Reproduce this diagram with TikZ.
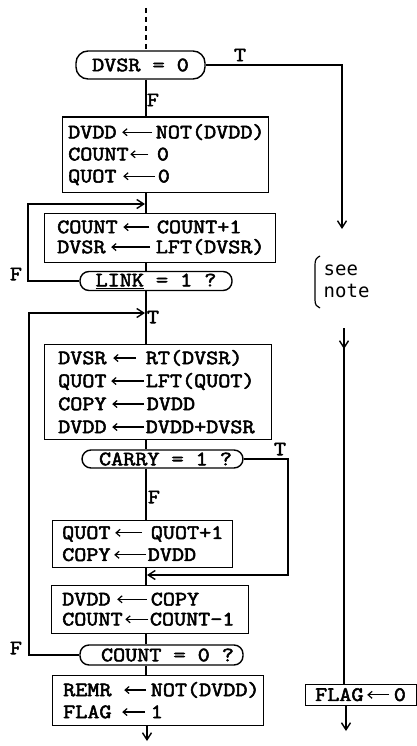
\documentclass[tikz,border=0pt]{standalone}
\usepackage{fontspec}
\usetikzlibrary{arrows.meta}
\newfontfamily\tw{Latin Modern Mono}[FakeStretch=1.15,FakeBold=2.6]
\newfontfamily\nt{DejaVu Sans Mono}
\newcommand{\asg}[3]{\hspace*{#1}\tikz[baseline=-0.3em]\draw[line width=1.2pt,-{Straight Barb[length=4pt,width=7pt]}] (#2,0pt) -- (0pt,0pt);\hspace*{#3}}
\begin{document}
\begin{tikzpicture}[x=1pt,y=-1pt,line width=1.4pt,
  box/.style={draw,rectangle,anchor=north west,align=left,inner ysep=0pt,
    font=\tw\fontsize{20.4}{22}\selectfont},
  dec/.style={draw,rectangle,rounded corners=9pt,inner sep=0pt,
    font=\tw\fontsize{20.4}{22}\selectfont},
  lbl/.style={inner sep=0pt,font=\tw\fontsize{20.4}{22}\selectfont},
  arr/.style={-{Straight Barb[length=7pt,width=9pt]}}]
\fill[white] (0,0) rectangle (417,746);
\useasboundingbox (0,0) rectangle (417,746);
\coordinate (mx) at (146,0);
\coordinate (top) at (146,8);
\coordinate (bot) at (147,741);
% nodes
\node[dec,minimum width=129pt,minimum height=28pt,rounded corners=12pt] (d1) at (140.5,65) {DVSR = 0};
\node[box,text width=194pt,inner xsep=6pt,minimum height=75pt] (b1) at (62,117)
  {\mbox{DVDD\asg{5pt}{30pt}{3pt}NOT(DVDD)}\\\mbox{COUNT\asg{1pt}{18pt}{8pt}0}\\\mbox{QUOT\asg{6pt}{32pt}{2pt}0}};
\node[box,text width=205pt,inner xsep=13pt,minimum height=49pt,
  font=\tw\fontsize{20.4}{20}\selectfont] (b2) at (44,213)
  {\mbox{COUNT\asg{5pt}{26pt}{7pt}COUNT+1}\\\mbox{DVSR\asg{5pt}{39pt}{5pt}LFT(DVSR)}};
\node[dec,minimum width=152pt,minimum height=19pt] (d2) at (156,281) {\underline{LINK} = 1 ?};
\node[box,text width=199pt,inner xsep=14pt,minimum height=95pt,
  font=\tw\fontsize{20.4}{23}\selectfont] (b3) at (44,344)
  {\mbox{DVSR\asg{6pt}{23pt}{9pt}RT(DVSR)}\\\mbox{QUOT\asg{4pt}{33pt}{1pt}LFT(QUOT)}\\\mbox{COPY\asg{5pt}{32pt}{2pt}DVDD}\\\mbox{DVDD\asg{5pt}{32pt}{1pt}DVDD+DVSR}};
\node[dec,minimum width=161pt,minimum height=18pt] (d3) at (162.5,459) {\hspace*{6pt}CARRY = 1 ?};
\node[box,text width=160pt,inner xsep=10pt,minimum height=47pt] (b4) at (52,520)
  {\mbox{QUOT\asg{4pt}{27pt}{8pt}QUOT+1}\\\mbox{COPY\asg{3pt}{32pt}{1pt}DVDD}};
\node[box,text width=175pt,inner xsep=11pt,minimum height=48pt,
  font=\tw\fontsize{20.4}{20}\selectfont] (b5) at (51,585)
  {\mbox{DVDD\asg{6pt}{30pt}{3pt}COPY}\\\mbox{COUNT\asg{2pt}{23pt}{1pt}COUNT-1}};
\node[dec,minimum width=163pt,minimum height=20pt] (d4) at (161.5,655) {\hspace*{12pt}COUNT = 0 ?};
\node[box,text width=189pt,inner xsep=11pt,minimum height=50pt] (b6) at (52,675)
  {\mbox{REMR\asg{12pt}{22pt}{4pt}NOT(DVDD)}\\\mbox{FLAG\asg{10pt}{23pt}{5pt}1}};
\node[box,text width=91pt,inner xsep=10pt,minimum height=21pt] (b7) at (305,684)
  {\mbox{FLAG\asg{3pt}{22pt}{4pt}0}};
% labels
\node[lbl] (tA) at (240,55) {T};
\node[lbl] (fA) at (153,100) {F};
\node[lbl] (fB) at (16,274) {F};
\node[lbl] (tB) at (153,317) {T};
\node[lbl] (tC) at (280,449) {T};
\node[lbl] (fC) at (154,497) {F};
\node[lbl] (fD) at (16,648) {F};
\node[anchor=north west,align=left,inner sep=0pt,font=\nt\fontsize{19}{22}\selectfont] (note) at (323,264) {see\\note};
% main column
\draw[dash pattern=on 5pt off 4pt] (top) -- (d1.north -| mx);
\draw (d1.south -| mx) -- (b1.north -| mx);
\draw (b1.south -| mx) -- (b2.north -| mx);
\draw (b2.south -| mx) -- (d2.north -| mx);
\draw (d2.south -| mx) -- (b3.north -| mx);
\draw (b3.south -| mx) -- (d3.north -| mx);
\draw (d3.south -| mx) -- (b4.north -| mx);
\draw (b4.south -| mx) -- (b5.north -| mx);
\draw (b5.south -| mx) -- (d4.north -| mx);
\draw (d4.south -| mx) -- (b6.north -| mx);
\draw[arr] (b6.south -| bot) -- (bot);
% loops
\coordinate (L1) at (28,204);
\coordinate (J1) at (145,204);
\draw[arr] (d2.west) -| (L1) -- (J1);
\coordinate (L2) at (29,313);
\coordinate (J2) at (145,313);
\draw[arr] (d4.west) -| (L2) -- (J2);
\coordinate (R3) at (288,575);
\coordinate (J3) at (147,575);
\draw[arr] (d3.east) -| (R3) -- (J3);
% right column
\coordinate (A1) at (342,229);
\draw[arr] (d1.east) -| (A1);
\coordinate (A2) at (344,328);
\coordinate (A2t) at (344,349);
\draw (A2) -- (b7.north -| A2);
\draw[arr] (A2) -- (A2t);
\coordinate (B7a) at (346,731);
\draw[arr] (b7.south -| B7a) -- (B7a);
% bracket
\draw[line width=1.2pt] (320,256) .. controls (316,258) and (315,260) .. (315,265) -- (315,300) .. controls (315,305) and (317,307) .. (320,308);
\end{tikzpicture}
\end{document}
